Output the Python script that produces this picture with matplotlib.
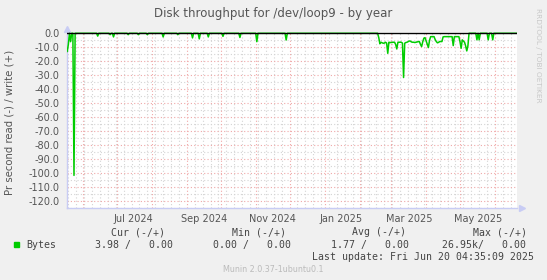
import matplotlib
matplotlib.use("Agg")
import matplotlib.pyplot as plt
import matplotlib.dates as mdates
import matplotlib.patches as mpatches
import pandas as pd

plt.rcParams['axes.unicode_minus'] = False

title = "Disk throughput for /dev/loop9 - by year"
ylabel = "Pr second read (-) / write (+)"

# read side (drawn negative), days not listed are 0
dip_dates = ["2024-05-17", "2024-05-18", "2024-05-19", "2024-05-21", "2024-05-24",
             "2024-06-14", "2024-06-25", "2024-06-28", "2024-07-11", "2024-07-20",
             "2024-07-28", "2024-08-11", "2024-08-24", "2024-09-06", "2024-09-12",
             "2024-09-20", "2024-10-03", "2024-10-18", "2024-11-02", "2024-11-28",
             "2025-05-16", "2025-05-18", "2025-05-26", "2025-05-30"]
dip_vals = [-13.5, -13.0, -8.0, -6.0, -101.5,
            -2.0, -1.0, -2.6, -1.0, -1.0,
            -1.0, -2.6, -1.0, -3.3, -4.0,
            -2.6, -2.2, -3.0, -6.0, -4.8,
            -4.7, -4.7, -4.7, -4.7]

# busy stretch, one value per day from Feb 18 2025
spring_start = "2025-02-18"
spring_vals = [-3.0, -7.5, -6.4, -6.8, -7.1, -7.0, -6.4, -7.0, -14.3, -6.4, -6.6,
               -6.6, -6.5, -6.4, -6.4, -8.0, -11.2, -6.4, -6.4, -6.4, -6.4, -7.0,
               -31.6, -7.1, -6.6, -6.4, -6.0, -5.5, -5.6, -6.2, -6.4, -6.4, -6.6,
               -6.4, -6.2, -6.0, -5.9, -8.0, -9.5, -6.0, -3.5, -3.1,
               -5.5, -8.0, -10.2, -5.0, -2.4, -2.4, -2.4, -2.4, -4.5, -5.9, -6.8,
               -6.5, -5.9, -5.9, -5.9, -2.6, -2.4, -2.4, -2.4, -2.4, -2.4, -2.4,
               -2.4, -2.4, -8.8, -2.4, -2.4, -2.4, -2.4, -2.4,
               -6.0, -10.7, -4.7, -5.5, -6.4, -9.0, -12.6, -9.0]

month_labels = ["Jul 2024", "Sep 2024", "Nov 2024", "Jan 2025", "Mar 2025", "May 2025"]
label_dates = ["2024-07-16", "2024-09-16", "2024-11-16", "2025-01-16", "2025-03-17", "2025-05-17"]
yticks = [0, -10, -20, -30, -40, -50, -60, -70, -80, -90, -100, -110, -120]

legend_heads = ["Cur (-/+)", "Min (-/+)", "Avg (-/+)", "Max (-/+)"]
legend_vals = ["3.98 /   0.00", "0.00 /   0.00", "1.77 /   0.00", "26.95k/   0.00"]
last_update = "Last update: Fri Jun 20 04:35:09 2025"
version = "Munin 2.0.37-1ubuntu0.1"

W, H = 547, 280
def fx(x):
    return x / W
def fy(y):
    return 1 - y / H

days = pd.date_range("2024-05-17", "2025-06-20", freq="D")
read = pd.Series(0.0, index=days)
read.loc[pd.to_datetime(dip_dates)] = dip_vals
spring_days = pd.date_range(spring_start, periods=len(spring_vals), freq="D")
read.loc[spring_days] = spring_vals

fig = plt.figure(figsize=(W / 100, H / 100), dpi=100, facecolor="#f0f0f0")
ax = fig.add_axes([fx(66.7), fy(208.3), 450.3 / W, (208.3 - 32.3) / H])
ax.set_facecolor("white")

ax.plot(read.index, read.values, color="#00cc00", lw=1.1, zorder=3)
ax.axhline(0, color="black", lw=1.0, zorder=4)

ax.set_xlim(pd.Timestamp("2024-05-17 13:00"), pd.Timestamp("2025-06-20 12:00"))
ax.set_ylim(-125, 0.7)

# grids
gray = "#d4d4d4"
pink = "#f0a8a8"
for m in pd.date_range("2024-06-01", "2025-06-01", freq="MS"):
    ax.axvline(m, color=pink, lw=0.8, ls=(0, (1, 2)), zorder=1)
for w in pd.date_range("2024-05-19", "2025-06-20", freq="W-SUN"):
    if w.day != 1:
        ax.axvline(w, color=gray, lw=0.8, ls=(0, (1, 2)), zorder=0.5)
for v in range(-120, 1, 10):
    if v != 0:
        ax.axhline(v, color=pink, lw=0.8, ls=(0, (1, 2)), zorder=1)
for v in range(-125, 0, 10):
    ax.axhline(v, color=gray, lw=0.8, ls=(0, (1, 2)), zorder=0.5)

ax.set_yticks(yticks)
ax.set_yticklabels(["%.1f" % v for v in yticks])
ax.set_xticks(pd.to_datetime(label_dates))
ax.set_xticklabels(month_labels)
ax.tick_params(axis="both", length=0, labelsize=7, colors="#555555")
ax.tick_params(axis="y", pad=5)
ax.tick_params(axis="x", pad=4)

for s in ["top", "right"]:
    ax.spines[s].set_visible(False)
for s in ["left", "bottom"]:
    ax.spines[s].set_color("#c8ccf4")
    ax.spines[s].set_linewidth(1.0)
ax.plot([0], [1.02], marker="^", color="#c8ccf4", ms=5, transform=ax.transAxes, clip_on=False)
ax.plot([1.01], [0], marker=">", color="#c8ccf4", ms=5, transform=ax.transAxes, clip_on=False)

fig.text(0.5, fy(13), title, ha="center", va="center", fontsize=8.5, color="#555555")
fig.text(fx(10), fy(122), ylabel, rotation=90, ha="center", va="center", fontsize=7.3, color="#555555")
fig.text(fx(538), fy(55), "RRDTOOL / TOBI OETIKER", rotation=270, ha="center", va="center",
         fontsize=5.3, color="#c8c8c8")

mono = dict(family="DejaVu Sans Mono", fontsize=7.1, color="#444444", va="center", ha="left")
for x, t in zip([110.7, 231.7, 351.7, 472.7], legend_heads):
    fig.text(fx(x), fy(232.3), t, **mono)
for x, t in zip([95, 213.3, 330.7, 442.3], legend_vals):
    fig.text(fx(x), fy(245), t, **mono)
fig.text(fx(26.7), fy(245), "Bytes", **mono)
fig.patches.append(mpatches.Rectangle((fx(14), fy(247.3)), 5.3 / W, 5.3 / H, color="#00cc00",
                                      transform=fig.transFigure, figure=fig))
fig.text(fx(311.7), fy(256.7), last_update, **mono)
fig.text(fx(273), fy(269), version, ha="center", va="center", fontsize=5.8, color="#bbbbbb")

fig.savefig("out.png", dpi=100, facecolor=fig.get_facecolor())
